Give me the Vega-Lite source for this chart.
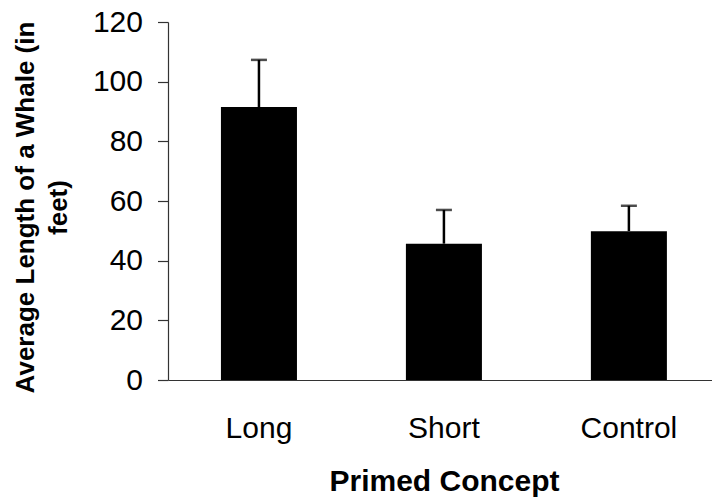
{
  "$schema": "https://vega.github.io/schema/vega-lite/v6.json",
  "width": 544,
  "height": 358,
  "autosize": {"type": "none"},
  "padding": {"left": 168, "top": 22, "right": 0, "bottom": 117},
  "background": "white",
  "config": {
    "view": {"stroke": null},
    "font": "Liberation Sans"
  },
  "data": {
    "values": [
      {"concept": "Long", "mean": 91.5, "upper": 107.3},
      {"concept": "Short", "mean": 45.7, "upper": 57.0},
      {"concept": "Control", "mean": 49.9, "upper": 58.4}
    ]
  },
  "encoding": {
    "x": {
      "field": "concept",
      "type": "nominal",
      "sort": ["Long", "Short", "Control"],
      "scale": {"paddingInner": 0.589, "paddingOuter": 0.265, "align": 0.54},
      "axis": {
        "title": "Primed Concept",
        "titleFont": "Liberation Sans",
        "titleFontSize": 30,
        "titleFontWeight": "bold",
        "titleColor": "#000",
        "titleBaseline": "alphabetic",
        "titleX": 276,
        "titleY": 110,
        "titleAnchor": null,
        "labelFont": "Liberation Sans",
        "labelFontSize": 30,
        "labelColor": "#000",
        "labelAngle": 0,
        "labelBaseline": "alphabetic",
        "labelPadding": 57,
        "ticks": false,
        "tickSize": 0,
        "domainColor": "#333",
        "domainWidth": 1.2,
        "grid": false
      }
    }
  },
  "layer": [
    {
      "mark": {"type": "bar", "color": "#000"},
      "encoding": {
        "y": {
          "field": "mean",
          "type": "quantitative",
          "scale": {"domain": [0, 120], "nice": false, "zero": true},
          "axis": {
            "values": [0, 20, 40, 60, 80, 100, 120],
            "title": ["Average Length of a Whale (in", "feet)"],
            "titleFont": "Liberation Sans",
            "titleFontSize": 26,
            "titleFontWeight": "bold",
            "titleColor": "#000",
            "titleAngle": -90,
            "titleAlign": "center",
            "titleBaseline": "middle",
            "titleLineHeight": 33,
            "titleX": -143,
            "titleY": 185,
            "titleAnchor": null,
            "labelFont": "Liberation Sans",
            "labelFontSize": 30,
            "labelColor": "#000",
            "labelPadding": 15,
            "tickSize": 10.5,
            "tickColor": "#333",
            "tickWidth": 1.2,
            "domainColor": "#333",
            "domainWidth": 1.2,
            "grid": false
          }
        }
      }
    },
    {
      "mark": {"type": "rule", "color": "#000", "strokeWidth": 2.5},
      "encoding": {
        "y": {"field": "mean", "type": "quantitative"},
        "y2": {"field": "upper"}
      }
    },
    {
      "mark": {"type": "tick", "color": "#000", "orient": "horizontal", "size": 16, "thickness": 2.5},
      "encoding": {
        "y": {"field": "upper", "type": "quantitative"}
      }
    }
  ]
}
